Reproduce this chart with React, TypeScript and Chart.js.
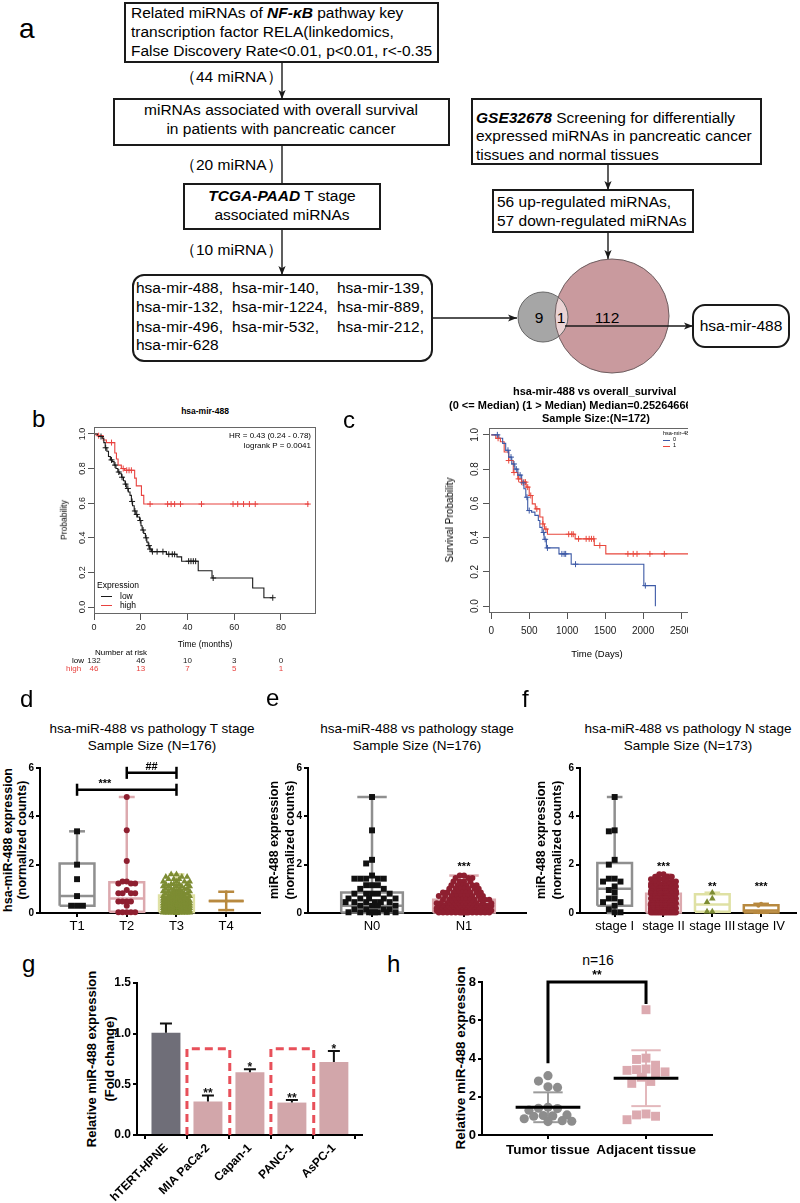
import React, { useEffect, useRef } from 'react';
import { Chart, registerables } from 'chart.js';

Chart.register(...registerables);
const FONT = '"Liberation Sans", Arial, Helvetica, sans-serif';
Chart.defaults.font.family = FONT;
Chart.defaults.color = '#000';

/* ---------------- panel b : KM (months) ---------------- */
const bXTicks = [0, 20, 40, 60, 80];
const bYTicks = [0, 0.2, 0.4, 0.6, 0.8, 1.0];
const bLowTime = [0, 1.5, 2.5, 3.5, 4.2, 4.8, 5.5, 6.2, 7, 7.8, 8.6, 9.4, 10.2, 11, 11.8, 12.6, 13.3, 14, 14.7, 15.4, 16, 16.5, 17.2, 17.9, 18.6, 19.5, 20.1, 20.6, 21.3, 22, 22.6, 23.2, 23.8, 24.6, 31, 35.5, 37.5, 44.6, 50.5, 67.9, 72.7, 76.5];
const bLowSurv = [1, 0.99, 0.985, 0.975, 0.95, 0.92, 0.9, 0.87, 0.85, 0.84, 0.82, 0.8, 0.78, 0.77, 0.75, 0.73, 0.71, 0.685, 0.665, 0.645, 0.61, 0.585, 0.555, 0.535, 0.52, 0.5, 0.47, 0.445, 0.425, 0.4, 0.375, 0.355, 0.335, 0.32, 0.305, 0.29, 0.265, 0.21, 0.168, 0.11, 0.054, 0.054];
const bHighTime = [0, 1.7, 3.9, 5.3, 8.9, 9.6, 10.3, 11.7, 13.1, 17.4, 18.1, 20.3, 21.3, 92];
const bHighSurv = [1, 0.99, 0.965, 0.95, 0.89, 0.855, 0.82, 0.8, 0.79, 0.745, 0.7, 0.645, 0.595, 0.595];
const bLowCensor = [3, 5, 7.5, 9, 10.6, 12, 13.5, 14.5, 16.3, 17.5, 18.3, 19.8, 21, 22.3, 23.5, 24, 25, 27, 29.5, 32, 33.5, 34.5, 40.5, 41.5, 42.5, 43.5, 51, 76.5];
const bHighCensor = [2, 7.5, 12.5, 14, 15, 16, 24, 31.5, 33, 34.5, 37, 46, 59.5, 61.5, 64, 66.5, 69, 91.5];
const riskTimes = [0, 20, 40, 60, 80];
const riskLow = [132, 46, 10, 3, 0];
const riskHigh = [46, 13, 7, 5, 1];

/* ---------------- panel c : KM (days) ---------------- */
const cXTicks = [0, 500, 1000, 1500, 2000, 2500];
const cYTicks = [0, 0.2, 0.4, 0.6, 0.8, 1.0];
const cLowTime = [0, 100, 150, 190, 230, 270, 310, 350, 400, 430, 455, 480, 530, 575, 620, 640, 670, 696, 726, 892, 1053, 2010, 2162];
const cLowSurv = [1, 0.98, 0.95, 0.91, 0.87, 0.83, 0.8, 0.765, 0.72, 0.685, 0.636, 0.558, 0.549, 0.53, 0.5, 0.46, 0.43, 0.39, 0.34, 0.305, 0.245, 0.12, 0];
const cHighTime = [0, 60, 120, 170, 230, 290, 350, 400, 460, 500, 540, 580, 640, 680, 700, 740, 1105, 1357, 1509, 2750];
const cHighSurv = [1, 0.98, 0.96, 0.9, 0.85, 0.78, 0.743, 0.724, 0.695, 0.646, 0.597, 0.568, 0.52, 0.48, 0.45, 0.42, 0.393, 0.354, 0.305, 0.305];
const cLowCensor = [80, 220, 260, 300, 330, 380, 420, 470, 500, 690, 710, 740, 930, 960, 980, 1110, 2030];
const cHighCensor = [90, 230, 300, 360, 400, 430, 450, 480, 520, 600, 680, 720, 1020, 1060, 1080, 1150, 1250, 1290, 1320, 1350, 1430, 1800, 1870, 1920, 2090, 2280, 2750];

/* ---------------- panels d / e / f : box + points ---------------- */
const boxYTicks = [0, 2, 4, 6];
// stats per group: [min, q1, median, q3, max]
const dCats = ['T1', 'T2', 'T3', 'T4'];
const dStats = [[0.3, 0.3, 0.7, 2.05, 3.38], [0, 0.05, 0.6, 1.27, 4.8], [0, 0.03, 0.3, 0.72, 1.6], [0.12, 0.5, 0.5, 0.5, 0.88]];
// points as [value, count]
const dT1: [number, number][] = [[3.38, 1], [2.0, 1], [1.4, 1], [0.7, 1], [0.3, 3]];
const dT2: [number, number][] = [[4.8, 1], [3.42, 1], [2.15, 1], [1.3, 2], [1.22, 3], [0.95, 1], [0.82, 4], [0.48, 4], [0.3, 1], [0.03, 5]];
const dT3: [number, number][] = [[1.6, 2], [1.5, 3], [1.4, 3], [1.3, 4], [1.2, 5], [1.1, 5], [1.0, 6], [0.9, 7], [0.8, 8], [0.7, 9], [0.6, 10], [0.5, 11], [0.4, 12], [0.3, 13], [0.2, 14], [0.1, 14], [0.02, 16]];
const dT4: [number, number][] = [[0.88, 1], [0.5, 1], [0.12, 1]];

const eCats = ['N0', 'N1'];
const eStats = [[0, 0.02, 0.3, 0.85, 4.8], [0, 0.02, 0.25, 0.55, 1.55]];
const eN0: [number, number][] = [[4.8, 1], [3.42, 1], [2.2, 1], [2.05, 1], [1.55, 1], [1.42, 5], [1.15, 3], [1.0, 2], [0.8, 5], [0.6, 5], [0.45, 6], [0.3, 4], [0.15, 4], [0.03, 8]];
const eN1: [number, number][] = [[1.55, 2], [1.45, 3], [1.3, 4], [1.15, 6], [1.0, 7], [0.85, 9], [0.7, 10], [0.55, 11], [0.4, 12], [0.3, 13], [0.2, 13], [0.1, 14], [0.02, 15]];

const fCats = ['stage I', 'stage II', 'stage III', 'stage IV'];
const fStats = [[0, 0.3, 1.0, 2.07, 4.8], [0, 0.02, 0.35, 0.8, 1.6], [0.05, 0.05, 0.35, 0.78, 0.84], [0.02, 0.02, 0.1, 0.32, 0.38]];
const fS1: [number, number][] = [[4.8, 1], [3.42, 1], [3.38, 1], [2.2, 1], [2.0, 1], [1.42, 2], [1.3, 2], [1.1, 1], [0.95, 1], [0.85, 1], [0.6, 2], [0.45, 2], [0.3, 1], [0.15, 1], [0.03, 2]];
const fS2: [number, number][] = [[1.6, 2], [1.5, 3], [1.4, 3], [1.3, 4], [1.2, 5], [1.1, 6], [1.0, 7], [0.9, 8], [0.8, 9], [0.7, 10], [0.6, 10], [0.5, 11], [0.4, 12], [0.3, 12], [0.2, 12], [0.1, 12], [0.02, 14]];
const fS3: [number, number][] = [[0.84, 1], [0.6, 1], [0.45, 1], [0.06, 2]];
const fS4: [number, number][] = [[0.38, 1], [0.3, 1], [0.03, 3]];

/* ---------------- panel g : bars ---------------- */
const gCats = ['hTERT-HPNE', 'MIA PaCa-2', 'Capan-1', 'PANC-1', 'AsPC-1'];
const gMeans = [1.01, 0.33, 0.62, 0.32, 0.72];
const gErr = [0.09, 0.06, 0.03, 0.025, 0.11];
const gSig = ['', '**', '*', '**', '*'];
const gYTicks = [0, 0.5, 1.0, 1.5];
const gHighlight = [1, 3];
const gHighlightTop = 0.85;

/* ---------------- panel h : scatter ---------------- */
const hCats = ['Tumor tissue', 'Adjacent tissue'];
const hTumor = [3.1, 2.82, 2.52, 2.49, 1.45, 1.4, 1.38, 1.3, 1.05, 1.02, 1.0, 0.98, 0.85, 0.75, 0.72, 0.7];
const hAdjacent = [6.55, 4.02, 3.95, 3.65, 3.45, 3.42, 3.38, 3.3, 3.25, 3.02, 2.8, 2.7, 1.1, 1.05, 0.98, 0.8];
const hMean = [1.45, 2.97];
const hSD = [0.78, 1.46];
const hYTicks = [0, 2, 4, 6, 8];

/* ---------------- helpers ---------------- */
const setTicks = (vals: number[]) => (axis: any) => { axis.ticks = vals.map((v) => ({ value: v })); };
const fixW = (w: number) => (axis: any) => { axis.width = w; };
const fixH = (h: number) => (axis: any) => { axis.height = h; };

function base(pad: any) {
  return {
    responsive: false, maintainAspectRatio: false, animation: false, devicePixelRatio: 1, events: [],
    layout: { padding: pad },
    plugins: { legend: { display: false }, tooltip: { enabled: false }, title: { display: false } },
  };
}

function survAt(t: number[], s: number[], v: number) {
  let r = s[0];
  for (let i = 0; i < t.length; i++) if (t[i] <= v) r = s[i];
  return r;
}

// layout of points around a category centre (beeswarm, bounded width)
function swarm(groups: [number, number][], center: number, pxX: number, pxY: number, diam: number, maxHalf: number) {
  const vals: number[] = [];
  groups.forEach(([v, c]) => { for (let k = 0; k < c; k++) vals.push(v); });
  vals.sort((a, b) => b - a);
  const placed: { x: number; y: number }[] = [];
  const step = diam * 0.5;
  const nMax = Math.max(0, Math.floor(maxHalf / step));
  return vals.map((v) => {
    const py = v * pxY;
    let best = 0, bestScore = -Infinity;
    for (let k = 0; k <= 2 * nMax; k++) {
      const off = (k % 2 === 1 ? -1 : 1) * Math.ceil(k / 2) * step;
      let minD = Infinity;
      for (const p of placed) { const d = Math.hypot(p.x - off, p.y - py); if (d < minD) minD = d; }
      if (minD >= diam) { best = off; break; }
      if (minD > bestScore + 0.01) { bestScore = minD; best = off; }
    }
    placed.push({ x: best, y: py });
    return { x: center + best / pxX, y: v };
  });
}

type TI = { x: number; y: number; t: string; size: number; bold?: boolean; dy?: number; color?: string };
const textPlugin = (items: TI[]) => ({
  id: 'txt',
  afterDatasetsDraw(chart: any) {
    const { ctx, scales } = chart;
    ctx.save();
    items.forEach((it) => {
      ctx.font = `${it.bold ? 'bold ' : ''}${it.size}px ${FONT}`;
      ctx.fillStyle = it.color || '#000';
      ctx.textAlign = 'center';
      ctx.textBaseline = 'alphabetic';
      ctx.fillText(it.t, scales.x.getPixelForValue(it.x), scales.y.getPixelForValue(it.y) + (it.dy || 0));
    });
    ctx.restore();
  },
});

const gpGrid = { display: true, drawOnChartArea: false, drawTicks: true, tickLength: 4, lineWidth: 2, color: '#000' };
const gpBorder = { display: true, width: 2, color: '#000' };

/* ---------------- chart canvas ---------------- */
function ChartCanvas({ x, y, w, h, make }: { x: number; y: number; w: number; h: number; make: () => any }) {
  const ref = useRef<HTMLCanvasElement>(null);
  useEffect(() => {
    const chart = new Chart(ref.current as HTMLCanvasElement, make());
    return () => chart.destroy();
  }, []);
  return <canvas ref={ref} width={w} height={h} style={{ position: 'absolute', left: x, top: y, width: w, height: h }} />;
}

/* ---------------- KM config ---------------- */
function makeKM(p: any) {
  const curve = (t: number[], s: number[], col: string) => ({
    data: t.map((v, i) => ({ x: v, y: s[i] })), borderColor: col, borderWidth: 1.1, stepped: 'before',
    pointRadius: 0, fill: false, clip: false, order: 2,
  });
  const marks = (cens: number[], t: number[], s: number[], col: string) => ({
    data: cens.map((v) => ({ x: v, y: survAt(t, s, v) })), showLine: false, pointStyle: 'cross', pointRadius: 3,
    pointBorderColor: col, pointBackgroundColor: col, pointBorderWidth: 1, clip: false, order: 1,
  });
  const grid = { display: true, drawOnChartArea: false, drawTicks: true, tickLength: 6, lineWidth: 1, color: '#555' };
  return {
    type: 'line',
    data: {
      datasets: [
        curve(p.lowT, p.lowS, p.lowCol), curve(p.highT, p.highS, p.highCol),
        marks(p.lowC, p.lowT, p.lowS, p.lowCol), marks(p.highC, p.highT, p.highS, p.highCol),
      ],
    },
    options: {
      ...base(p.pad),
      scales: {
        x: {
          type: 'linear', min: p.xMin, max: p.xMax, bounds: 'data', afterBuildTicks: setTicks(p.xTicks), afterFit: fixH(p.xH),
          ticks: { callback: (v: number) => String(v), font: { size: p.fs }, color: '#222', padding: p.tpad, autoSkip: false, maxRotation: 0, minRotation: 0 },
          grid, border: { display: false },
        },
        y: {
          type: 'linear', min: -0.04, max: 1.04, bounds: 'data', afterBuildTicks: setTicks(p.yTicks), afterFit: fixW(p.yW),
          ticks: { font: { size: p.fs }, color: 'rgba(0,0,0,0)' },
          grid, border: { display: false },
        },
      },
    },
    plugins: [
      {
        id: 'frame',
        afterDraw(chart: any) {
          const { ctx, chartArea: a, scales } = chart;
          ctx.save();
          ctx.strokeStyle = '#666'; ctx.lineWidth = 1;
          ctx.strokeRect(a.left + 0.5, a.top + 0.5, a.right - a.left - 1, a.bottom - a.top - 1);
          ctx.font = `${p.fs}px ${FONT}`; ctx.fillStyle = '#222'; ctx.textAlign = 'center'; ctx.textBaseline = 'middle';
          scales.y.ticks.forEach((t: any) => {
            ctx.save();
            ctx.translate(a.left - p.yLabOff, scales.y.getPixelForValue(t.value));
            ctx.rotate(-Math.PI / 2);
            ctx.fillText(Number(t.value).toFixed(1), 0, 0);
            ctx.restore();
          });
          ctx.restore();
        },
      },
      ...(p.extra || []),
    ],
  };
}

const makeB = () => makeKM({
  lowT: bLowTime, lowS: bLowSurv, lowC: bLowCensor, lowCol: '#1a1a1a',
  highT: bHighTime, highS: bHighSurv, highC: bHighCensor, highCol: '#e8423f',
  xMin: 0, xMax: 95, xTicks: bXTicks, yTicks: bYTicks, pad: { top: 29, right: 14, left: 0, bottom: 0 },
  xH: 61, yW: 39, fs: 9, tpad: 2, yLabOff: 11,
  extra: [{
    id: 'risk',
    afterDraw(chart: any) {
      const { ctx, scales } = chart;
      ctx.save();
      ctx.font = `8px ${FONT}`; ctx.textAlign = 'center'; ctx.textBaseline = 'middle';
      riskTimes.forEach((t, i) => {
        const px = scales.x.getPixelForValue(t);
        ctx.fillStyle = '#222'; ctx.fillText(String(riskLow[i]), px, 661 - 398);
        ctx.fillStyle = '#e8423f'; ctx.fillText(String(riskHigh[i]), px, 669 - 398);
      });
      ctx.restore();
    },
  }],
});

const makeC = () => makeKM({
  lowT: cLowTime, lowS: cLowSurv, lowC: cLowCensor, lowCol: '#3d5aa6',
  highT: cHighTime, highS: cHighSurv, highC: cHighCensor, highCol: '#e8473c',
  xMin: -30, xMax: 2750, xTicks: cXTicks, yTicks: cYTicks, pad: { top: 30, right: 20, left: 0, bottom: 0 },
  xH: 47, yW: 59, fs: 10, tpad: 6, yLabOff: 14,
});

/* ---------------- box chart config ---------------- */
function makeBox(c: any) {
  const ds: any[] = [];
  c.stats.forEach((s: number[], i: number) => {
    const [mn, q1, md, q3, mx] = s;
    const L = (pts: any[]) => ds.push({
      data: pts, borderColor: c.boxCol[i], borderWidth: 2.5, pointRadius: 0, showLine: true, fill: false,
      clip: false, order: 3, borderJoinStyle: 'miter',
    });
    L([{ x: i, y: q3 }, { x: i, y: mx }]);
    L([{ x: i, y: mn }, { x: i, y: q1 }]);
    L([{ x: i - c.cap, y: mx }, { x: i + c.cap, y: mx }]);
    L([{ x: i - c.cap, y: mn }, { x: i + c.cap, y: mn }]);
    L([{ x: i - c.half, y: q1 }, { x: i + c.half, y: q1 }, { x: i + c.half, y: q3 }, { x: i - c.half, y: q3 }, { x: i - c.half, y: q1 }]);
    L([{ x: i - c.half, y: md }, { x: i + c.half, y: md }]);
  });
  c.pts.forEach((g: [number, number][], i: number) => {
    const r = c.rad[i];
    ds.push({
      data: swarm(g, i, c.pxX, 24.25, r * 1.4, c.half * c.pxX - r), showLine: false, pointStyle: c.shape[i],
      pointRadius: r, pointBackgroundColor: c.ptCol[i], pointBorderColor: c.ptCol[i], pointBorderWidth: 0,
      clip: false, order: 2,
    });
  });
  const texts: TI[] = [];
  (c.brackets || []).forEach((br: any) => {
    const K = (pts: any[]) => ds.push({ data: pts, borderColor: '#000', borderWidth: 2.5, pointRadius: 0, showLine: true, fill: false, clip: false, order: 1 });
    K([{ x: br.a, y: br.y }, { x: br.b, y: br.y }]);
    K([{ x: br.a, y: br.y - 0.25 }, { x: br.a, y: br.y + 0.25 }]);
    K([{ x: br.b, y: br.y - 0.25 }, { x: br.b, y: br.y + 0.25 }]);
    texts.push({ x: br.lx, y: br.y, t: br.t, size: 11, bold: true, dy: -3 });
  });
  c.sig.forEach((t: string, i: number) => { if (t) texts.push({ x: i, y: c.sigY[i], t, size: 11, bold: true }); });
  return {
    type: 'line',
    data: { datasets: ds },
    options: {
      ...base({ top: 16, right: c.padR, left: 0, bottom: 0 }),
      scales: {
        x: {
          type: 'linear', min: c.xMin, max: c.xMax, bounds: 'data', afterBuildTicks: setTicks(c.cats.map((_: any, i: number) => i)),
          afterFit: fixH(27),
          ticks: { callback: (v: number) => c.cats[v], font: { size: 13 }, color: '#000', padding: 2, autoSkip: false, maxRotation: 0, minRotation: 0 },
          grid: gpGrid, border: gpBorder,
        },
        y: {
          type: 'linear', min: 0, max: 6, bounds: 'data', afterBuildTicks: setTicks(boxYTicks), afterFit: fixW(15),
          ticks: { font: { size: 10, weight: 'bold' }, color: '#000', padding: 2 },
          grid: gpGrid, border: gpBorder,
        },
      },
    },
    plugins: [textPlugin(texts)],
  };
}

const GREY = '#8f8f8f', PINK = '#dca9ae', PALE = '#dfe1a4', BROWN = '#b8893f';
const makeD = () => makeBox({
  cats: dCats, stats: dStats, pts: [dT1, dT2, dT3, dT4],
  boxCol: [GREY, PINK, PALE, BROWN], ptCol: ['#111', '#8e1f30', '#7d8c33', BROWN], shape: ['rect', 'circle', 'triangle', 'circle'],
  rad: [4.2, 3, 3.8, 1.5], xMin: -0.745, xMax: 3.68, pxX: 49.7, half: 0.35, cap: 0.16, padR: 10,
  sig: ['', '', '', ''], sigY: [0, 0, 0, 0],
  brackets: [{ a: 0, b: 2, y: 5.1, t: '***', lx: 0.56 }, { a: 1, b: 2, y: 5.8, t: '##', lx: 1.5 }],
});
const makeE = () => makeBox({
  cats: eCats, stats: eStats, pts: [eN0, eN1],
  boxCol: [GREY, PINK], ptCol: ['#111', '#8e1f30'], shape: ['rect', 'circle'],
  rad: [4.2, 3], xMin: -0.696, xMax: 1.674, pxX: 92, half: 0.335, cap: 0.16, padR: 7,
  sig: ['', '***'], sigY: [0, 1.8],
});
const makeF = () => makeBox({
  cats: fCats, stats: fStats, pts: [fS1, fS2, fS3, fS4],
  boxCol: [GREY, PINK, PALE, BROWN], ptCol: ['#111', '#8e1f30', '#7d8c33', BROWN], shape: ['rect', 'circle', 'triangle', 'circle'],
  rad: [4.2, 3, 3.8, 2], xMin: -0.71, xMax: 3.71, pxX: 49.3, half: 0.355, cap: 0.16, padR: 3,
  sig: ['', '***', '**', '***'], sigY: [0, 1.8, 0.97, 0.97],
});

/* ---------------- g ---------------- */
const makeG = () => ({
  type: 'bar',
  data: {
    datasets: [{
      data: gMeans.map((v, i) => ({ x: i, y: v })),
      backgroundColor: gMeans.map((_, i) => (i === 0 ? '#6f6e78' : '#d2a6aa')),
      borderWidth: 0, categoryPercentage: 1, barPercentage: 0.69,
    }],
  },
  options: {
    ...base({ top: 25, right: 13, left: 0, bottom: 0 }),
    scales: {
      x: {
        type: 'linear', min: -0.69, max: 4.67, bounds: 'data', offset: false, afterBuildTicks: setTicks(gCats.map((_, i) => i)),
        afterFit: fixH(68),
        ticks: { callback: (v: number) => gCats[v], font: { size: 12, weight: 'bold' }, color: '#000', padding: 2, autoSkip: false, minRotation: 45, maxRotation: 45 },
        grid: gpGrid, border: gpBorder,
      },
      y: {
        type: 'linear', min: 0, max: 1.5, bounds: 'data', afterBuildTicks: setTicks(gYTicks), afterFit: fixW(57),
        ticks: { callback: (v: number) => Number(v).toFixed(1), font: { size: 12, weight: 'bold' }, color: '#000', padding: 2 },
        grid: gpGrid, border: gpBorder,
      },
    },
  },
  plugins: [{
    id: 'err',
    afterDatasetsDraw(chart: any) {
      const { ctx, scales: { x, y } } = chart;
      ctx.save();
      ctx.strokeStyle = '#111'; ctx.lineWidth = 2;
      gMeans.forEach((m, i) => {
        const px = x.getPixelForValue(i), top = y.getPixelForValue(m + gErr[i]), b = y.getPixelForValue(m);
        ctx.beginPath(); ctx.moveTo(px, b); ctx.lineTo(px, top); ctx.moveTo(px - 6, top); ctx.lineTo(px + 6, top); ctx.stroke();
        if (gSig[i]) {
          ctx.font = `bold 12px ${FONT}`; ctx.fillStyle = '#111'; ctx.textAlign = 'center'; ctx.textBaseline = 'alphabetic';
          ctx.fillText(gSig[i], px, top + 2);
        }
      });
      ctx.strokeStyle = '#e8505a'; ctx.lineWidth = 3; ctx.setLineDash([8, 5]);
      gHighlight.forEach((i) => {
        const l = x.getPixelForValue(i - 0.5), r = x.getPixelForValue(i + 0.52), t = y.getPixelForValue(gHighlightTop), b = y.getPixelForValue(0);
        ctx.beginPath(); ctx.moveTo(l, b); ctx.lineTo(l, t); ctx.lineTo(r, t); ctx.lineTo(r, b); ctx.stroke();
      });
      ctx.restore();
    },
  }],
});

/* ---------------- h ---------------- */
const makeH = () => {
  const ds: any[] = [];
  const sdCol = ['#9b9b9b', '#e3b8bc'];
  const L = (pts: any[], col: string, w: number, order: number) => ds.push({ data: pts, borderColor: col, borderWidth: w, pointRadius: 0, showLine: true, fill: false, clip: false, order });
  hMean.forEach((m, i) => {
    const lo = m - hSD[i], hi = m + hSD[i];
    L([{ x: i, y: lo }, { x: i, y: hi }], sdCol[i], 2, 4);
    L([{ x: i - 0.15, y: hi }, { x: i + 0.15, y: hi }], sdCol[i], 2, 4);
    L([{ x: i - 0.15, y: lo }, { x: i + 0.15, y: lo }], sdCol[i], 2, 4);
    L([{ x: i - 0.33, y: m }, { x: i + 0.33, y: m }], '#000', 3, 2);
  });
  ds.push({ data: swarm(hTumor.map((v) => [v, 1] as [number, number]), 0, 98, 19.16, 9.5, 26), showLine: false, pointStyle: 'circle', pointRadius: 4.6, pointBackgroundColor: '#8d8d8d', pointBorderWidth: 0, clip: false, order: 3 });
  ds.push({ data: swarm(hAdjacent.map((v) => [v, 1] as [number, number]), 1, 98, 19.16, 9.5, 26), showLine: false, pointStyle: 'rect', pointRadius: 6.3, pointBackgroundColor: '#dcaab0', pointBorderWidth: 0, clip: false, order: 3 });
  L([{ x: 0, y: 3.75 }, { x: 0, y: 8 }, { x: 1, y: 8 }, { x: 1, y: 6.85 }], '#000', 3, 1);
  return {
    type: 'line',
    data: { datasets: ds },
    options: {
      ...base({ top: 24, right: 18, left: 0, bottom: 0 }),
      scales: {
        x: {
          type: 'linear', min: -0.673, max: 1.673, bounds: 'data', afterBuildTicks: setTicks([0, 1]), afterFit: fixH(68),
          ticks: { callback: (v: number) => hCats[v], font: { size: 13.5, weight: 'bold' }, color: '#000', padding: 3, autoSkip: false, maxRotation: 0, minRotation: 0 },
          grid: gpGrid, border: gpBorder,
        },
        y: {
          type: 'linear', min: 0, max: 8, bounds: 'data', afterBuildTicks: setTicks(hYTicks), afterFit: fixW(52),
          ticks: { font: { size: 13, weight: 'bold' }, color: '#000', padding: 2 },
          grid: gpGrid, border: gpBorder,
        },
      },
    },
    plugins: [textPlugin([{ x: 0.5, y: 8, t: '**', size: 12, bold: true, dy: -3 }])],
  };
};

/* ---------------- text helper ---------------- */
function T({ x, y, s = 15.5, b = false, a = 'l', r = 0, c = '#000', children }: any) {
  const tx = r ? '-50%' : a === 'c' ? '-50%' : a === 'r' ? '-100%' : '0%';
  return (
    <div style={{
      position: 'absolute', left: x, top: y, fontSize: s, lineHeight: 1, whiteSpace: 'nowrap',
      fontWeight: b ? 700 : 400, color: c, transform: `translate(${tx},-50%)${r ? ` rotate(${r}deg)` : ''}`,
    }}>{children}</div>
  );
}
const BI = ({ children }: any) => <b><i>{children}</i></b>;

/* ---------------- flow chart (panel a) ---------------- */
function Flow() {
  const A = (x1: number, y1: number, x2: number, y2: number, head = true) => (
    <line x1={x1} y1={y1} x2={x2} y2={y2} stroke="#1a1a1a" strokeWidth={1.4} markerEnd={head ? 'url(#ah)' : undefined} />
  );
  const R = (x: number, y: number, w: number, h: number, rx = 0) => (
    <rect x={x} y={y} width={w} height={h} rx={rx} ry={rx} fill="#fff" stroke="#1a1a1a" strokeWidth={2} />
  );
  return (
    <>
      <svg width={800} height={380} style={{ position: 'absolute', left: 0, top: 0 }}>
        <defs>
          <marker id="ah" viewBox="0 0 10 10" refX="10" refY="5" markerWidth="9" markerHeight="9" markerUnits="userSpaceOnUse" orient="auto">
            <path d="M0,1 L10,5 L0,9 L2.5,5 z" fill="#1a1a1a" />
          </marker>
          <clipPath id="bigc"><circle cx={612} cy={316} r={57} /></clipPath>
        </defs>
        {R(125, 3, 313, 59)}
        {R(114, 99, 335, 46)}
        {R(184, 184, 196, 45)}
        {R(133, 275, 299, 86, 11)}
        {R(472, 99, 289, 65)}
        {R(493, 190, 200, 42)}
        {R(693, 305, 96, 42, 12)}
        {A(282, 62, 282, 99)}
        {A(282, 145, 282, 184, false)}
        {A(282, 229, 282, 275)}
        {A(432, 318, 517, 318)}
        {A(608, 164, 608, 190)}
        {A(608, 232, 608, 259)}
        <circle cx={612} cy={316} r={57} fill="#c99a9e" />
        <circle cx={543} cy={317} r={25} fill="#a6a6a6" />
        <circle cx={543} cy={317} r={25} fill="#ead3d4" clipPath="url(#bigc)" />
        <circle cx={543} cy={317} r={25} fill="none" stroke="#666" strokeWidth={1} />
        <circle cx={612} cy={316} r={57} fill="none" stroke="#6e5e60" strokeWidth={1} />
        {A(565, 326, 693, 326)}
      </svg>
      <T x={19} y={29} s={28}>a</T>
      <T x={131} y={13}>Related miRNAs of <BI>NF-κB</BI> pathway key</T>
      <T x={131} y={32}>transcription factor RELA(linkedomics,</T>
      <T x={131} y={51}>False Discovery Rate&lt;0.01, p&lt;0.01, r&lt;-0.35</T>
      <T x={180} y={77}>（44 miRNA）</T>
      <T x={281} y={110} a="c">miRNAs associated with overall survival</T>
      <T x={281} y={129} a="c">in patients with  pancreatic cancer</T>
      <T x={180} y={165}>（20 miRNA）</T>
      <T x={282} y={196} a="c"><BI>TCGA-PAAD</BI> T stage</T>
      <T x={282} y={215} a="c">associated miRNAs</T>
      <T x={180} y={250}>（10 miRNA）</T>
      <T x={136} y={288}>hsa-mir-488,</T>
      <T x={232} y={288}>hsa-mir-140,</T>
      <T x={337} y={288}>hsa-mir-139,</T>
      <T x={136} y={307}>hsa-mir-132,</T>
      <T x={232} y={307}>hsa-mir-1224,</T>
      <T x={337} y={307}>hsa-mir-889,</T>
      <T x={136} y={327}>hsa-mir-496,</T>
      <T x={232} y={327}>hsa-mir-532,</T>
      <T x={337} y={327}>hsa-mir-212,</T>
      <T x={136} y={345}>hsa-mir-628</T>
      <T x={476} y={118}><BI>GSE32678</BI> Screening for differentially</T>
      <T x={476} y={136}>expressed miRNAs in pancreatic cancer</T>
      <T x={476} y={155}>tissues and normal tissues</T>
      <T x={497} y={202}>56 up-regulated miRNAs,</T>
      <T x={497} y={221}>57 down-regulated miRNAs</T>
      <T x={539} y={318} a="c">9</T>
      <T x={561} y={318} a="c">1</T>
      <T x={607} y={318} a="c">112</T>
      <T x={741} y={326} a="c">hsa-mir-488</T>
    </>
  );
}

export default function App() {
  return (
    <div style={{ position: 'absolute', left: 0, top: 0, width: 800, height: 1203, background: '#fff', fontFamily: FONT, overflow: 'hidden' }}>
      <Flow />

      {/* b */}
      <T x={32} y={419} s={24}>b</T>
      <T x={205} y={411} s={8.5} b a="c">hsa-mir-488</T>
      <ChartCanvas x={55} y={398} w={275} h={277} make={makeB} />
      <T x={311} y={436} s={8} a="r">HR = 0.43 (0.24 - 0.78)</T>
      <T x={311} y={446} s={8} a="r">logrank P = 0.0041</T>
      <T x={64} y={520} s={8.5} r={-90}>Probability</T>
      <T x={205} y={644} s={8.5} a="c">Time (months)</T>
      <T x={97} y={585} s={8.5}>Expression</T>
      <div style={{ position: 'absolute', left: 101, top: 596, width: 11, height: 1, background: '#1a1a1a' }} />
      <div style={{ position: 'absolute', left: 101, top: 605, width: 11, height: 1, background: '#e8423f' }} />
      <T x={120} y={596} s={8.5}>low</T>
      <T x={120} y={605} s={8.5}>high</T>
      <T x={95} y={653} s={8}>Number at risk</T>
      <T x={72} y={661} s={8}>low</T>
      <T x={66} y={669} s={8} c="#e8423f">high</T>

      {/* c (clipped on the right like the source) */}
      <T x={343} y={420} s={24}>c</T>
      <div style={{ position: 'absolute', left: 0, top: 0, width: 688, height: 700, overflow: 'hidden' }}>
        <ChartCanvas x={430} y={398} w={290} h={262} make={makeC} />
        <T x={513} y={391} s={11} b>hsa-mir-488 vs overall_survival</T>
        <T x={449} y={405} s={11} b>(0 &lt;= Median) (1 &gt; Median) Median=0.252646667645</T>
        <T x={542} y={418} s={11} b>Sample Size:(N=172)</T>
        <T x={450} y={520} s={10} r={-90}>Survival Probability</T>
        <T x={597} y={654} s={9.5} a="c">Time (Days)</T>
        <T x={663} y={434} s={5.5}>hsa-mir-488</T>
        <div style={{ position: 'absolute', left: 663, top: 440, width: 7, height: 1, background: '#3d5aa6' }} />
        <div style={{ position: 'absolute', left: 663, top: 446, width: 7, height: 1, background: '#e8473c' }} />
        <T x={673} y={440} s={5.5}>0</T>
        <T x={673} y={446} s={5.5}>1</T>
      </div>

      {/* d */}
      <T x={20} y={699} s={24}>d</T>
      <T x={152} y={729} s={13.5} a="c">hsa-miR-488 vs pathology T stage</T>
      <T x={152} y={746} s={13.5} a="c">Sample Size (N=176)</T>
      <T x={8} y={840} s={12.5} b r={-90}>hsa-miR-488 expression</T>
      <T x={22} y={840} s={12.5} b r={-90}>(normalized counts)</T>
      <ChartCanvas x={25} y={752} w={245} h={188} make={makeD} />

      {/* e */}
      <T x={266} y={698} s={24}>e</T>
      <T x={417} y={729} s={13.5} a="c">hsa-miR-488 vs pathology stage</T>
      <T x={417} y={746} s={13.5} a="c">Sample Size (N=176)</T>
      <T x={274} y={840} s={12.5} b r={-90}>miR-488 expression</T>
      <T x={290} y={840} s={12.5} b r={-90}>(normalized counts)</T>
      <ChartCanvas x={293} y={752} w={240} h={188} make={makeE} />

      {/* f */}
      <T x={522} y={699} s={24}>f</T>
      <T x={688} y={729} s={13.5} a="c">hsa-miR-488 vs pathology N stage</T>
      <T x={688} y={746} s={13.5} a="c">Sample Size (N=173)</T>
      <T x={541} y={840} s={12.5} b r={-90}>miR-488 expression</T>
      <T x={557} y={840} s={12.5} b r={-90}>(normalized counts)</T>
      <ChartCanvas x={565} y={752} w={235} h={188} make={makeF} />

      {/* g */}
      <T x={22} y={964} s={24}>g</T>
      <T x={91} y={1059} s={13} b r={-90}>Relative miR-488 expression</T>
      <T x={109} y={1059} s={13} b r={-90}>(Fold change)</T>
      <ChartCanvas x={80} y={958} w={295} h={245} make={makeG} />

      {/* h */}
      <T x={387} y={964} s={24}>h</T>
      <T x={598} y={960} s={14} a="c">n=16</T>
      <T x={461} y={1058} s={13.5} b r={-90}>Relative miR-488 expression</T>
      <ChartCanvas x={430} y={958} w={300} h={245} make={makeH} />
    </div>
  );
}
